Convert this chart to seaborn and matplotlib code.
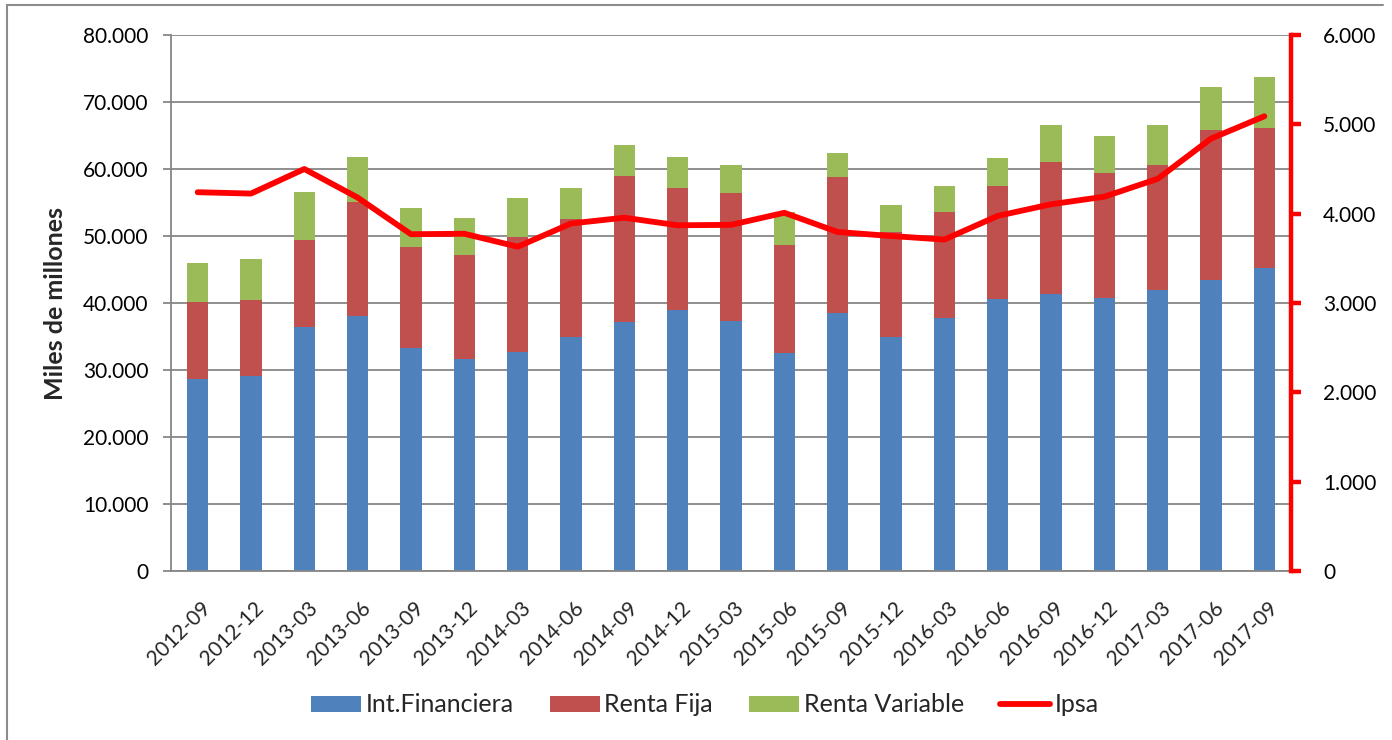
import numpy as np
import pandas as pd
import seaborn as sns
import matplotlib
matplotlib.use("Agg")
import matplotlib.pyplot as plt
from matplotlib.patches import Patch
from matplotlib.lines import Line2D
from matplotlib.ticker import FuncFormatter, FixedLocator
import matplotlib.transforms as mtransforms

# ---------------- data ----------------
periods = ["2012-09", "2012-12", "2013-03", "2013-06", "2013-09", "2013-12",
           "2014-03", "2014-06", "2014-09", "2014-12", "2015-03", "2015-06",
           "2015-09", "2015-12", "2016-03", "2016-06", "2016-09", "2016-12",
           "2017-03", "2017-06", "2017-09"]
int_financiera = [28700, 29100, 36400, 38100, 33300, 31700, 32700, 35000, 37100, 39000, 37300,
                  32500, 38500, 34900, 37800, 40600, 41400, 40700, 41900, 43400, 45200]
renta_fija = [11500, 11400, 13000, 17000, 15100, 15500, 17200, 17600, 21900, 18200, 19100,
              16100, 20300, 15700, 15800, 16900, 19700, 18700, 18700, 22400, 20900]
renta_variable = [5800, 6100, 7200, 6700, 5800, 5500, 5700, 4600, 4600, 4600, 4200,
                  5000, 3600, 4100, 3800, 4200, 5500, 5600, 6000, 6400, 7600]
ipsa = [4240, 4225, 4500, 4180, 3770, 3775, 3630, 3890, 3955, 3870, 3875,
        4010, 3795, 3750, 3710, 3975, 4105, 4190, 4390, 4840, 5090]

series_names = ["Int.Financiera", "Renta Fija", "Renta Variable", "Ipsa"]
left_ticks = [0, 10000, 20000, 30000, 40000, 50000, 60000, 70000, 80000]
right_ticks = [0, 1000, 2000, 3000, 4000, 5000, 6000]

C_BLUE, C_RED, C_GREEN, C_LINE = "#4F81BD", "#C0504D", "#9BBB59", "#FF0000"
GRID = "#868686"

# ---------------- style ----------------
sns.set_style("white")
plt.rcParams["font.family"] = ["Lato", "DejaVu Sans"]
FS = 15
FS_BIG = 18

df = pd.DataFrame({"period": periods,
                   "fin": int_financiera,
                   "fija": renta_fija,
                   "var": renta_variable,
                   "ipsa": ipsa})
df["lvl1"] = df["fin"]
df["lvl2"] = df["fin"] + df["fija"]
df["lvl3"] = df["lvl2"] + df["var"]

fig = plt.figure(figsize=(13.92, 7.40), dpi=100)
ax = fig.add_axes([171/1392, 1 - 571/740, (1291-171)/1392, (571-35)/740])

# stacked bars: draw cumulative levels from tallest to shortest
for col, c in [("lvl3", C_GREEN), ("lvl2", C_RED), ("lvl1", C_BLUE)]:
    sns.barplot(data=df, x="period", y=col, color=c, width=0.4, errorbar=None,
                linewidth=0, saturation=1, ax=ax, zorder=2)

ax.set_xlim(-0.5, len(periods) - 0.5)
ax.set_ylim(0, 80000)
ax.yaxis.set_major_locator(FixedLocator(left_ticks))
ax.yaxis.set_major_formatter(FuncFormatter(lambda v, p: f"{int(v):,}".replace(",", ".")))
ax.yaxis.grid(True, color=GRID, lw=1.3, zorder=0)
ax.set_axisbelow(True)
ax.set_xlabel("")
ax.set_ylabel("Miles de millones", fontsize=FS_BIG, fontweight="bold", labelpad=12)

for s in ["top", "right"]:
    ax.spines[s].set_visible(False)
for s in ["left", "bottom"]:
    ax.spines[s].set_color(GRID)
    ax.spines[s].set_linewidth(1.3)

ax.tick_params(axis="y", which="major", direction="out", length=6, width=1.3,
               color=GRID, labelsize=FS, pad=10, labelcolor="black")
# x: labels at bar centres, tick marks at category boundaries
ax.set_xticks(range(len(periods)))
ax.set_xticklabels(periods, rotation=45, ha="right", va="top",
                   rotation_mode="anchor", fontsize=FS)
ax.tick_params(axis="x", which="major", length=0, pad=19)
ax.set_xticks(np.arange(-0.5, len(periods)), minor=True)
ax.tick_params(axis="x", which="minor", direction="out", length=7, width=1.3, color=GRID)
offset = mtransforms.ScaledTranslation(3/100, 0, fig.dpi_scale_trans)
for lbl in ax.get_xticklabels():
    lbl.set_transform(lbl.get_transform() + offset)

# secondary axis with Ipsa line
ax2 = ax.twinx()
sns.lineplot(x=np.arange(len(periods)), y=df["ipsa"], color=C_LINE, lw=4.2,
             ax=ax2, zorder=5, solid_capstyle="round", solid_joinstyle="round")
ax2.set_ylim(0, 6000)
ax2.set_ylabel("")
ax2.yaxis.set_major_locator(FixedLocator(right_ticks))
ax2.yaxis.set_major_formatter(FuncFormatter(lambda v, p: f"{int(v):,}".replace(",", ".")))
for s in ["top", "left", "bottom"]:
    ax2.spines[s].set_visible(False)
ax2.spines["right"].set_color(C_LINE)
ax2.spines["right"].set_linewidth(3.2)
ax2.tick_params(axis="y", direction="out", length=7, width=3.2, color=C_LINE,
                labelsize=FS, pad=16, labelcolor="black")
ax2.grid(False)

# legend
handles = [Patch(facecolor=C_BLUE, edgecolor="none"),
           Patch(facecolor=C_RED, edgecolor="none"),
           Patch(facecolor=C_GREEN, edgecolor="none"),
           Line2D([0], [0], color=C_LINE, lw=4.2)]
fig.legend(handles, series_names, loc="center", ncol=4, frameon=False,
           bbox_to_anchor=(705/1392, 1 - 705/740), fontsize=FS_BIG,
           handlelength=2.0, handleheight=0.6, handletextpad=0.18, columnspacing=1.45)

# chart-area border (top and left visible)
fig.add_artist(Line2D([7/1392, 7/1392], [0, 1 - 5/740], transform=fig.transFigure,
                      color="#8c8c8c", lw=1.5))
fig.add_artist(Line2D([7/1392, 1383/1392], [1 - 5/740, 1 - 5/740], transform=fig.transFigure,
                      color="#8c8c8c", lw=1.5))

fig.savefig("out.png", dpi=100)
